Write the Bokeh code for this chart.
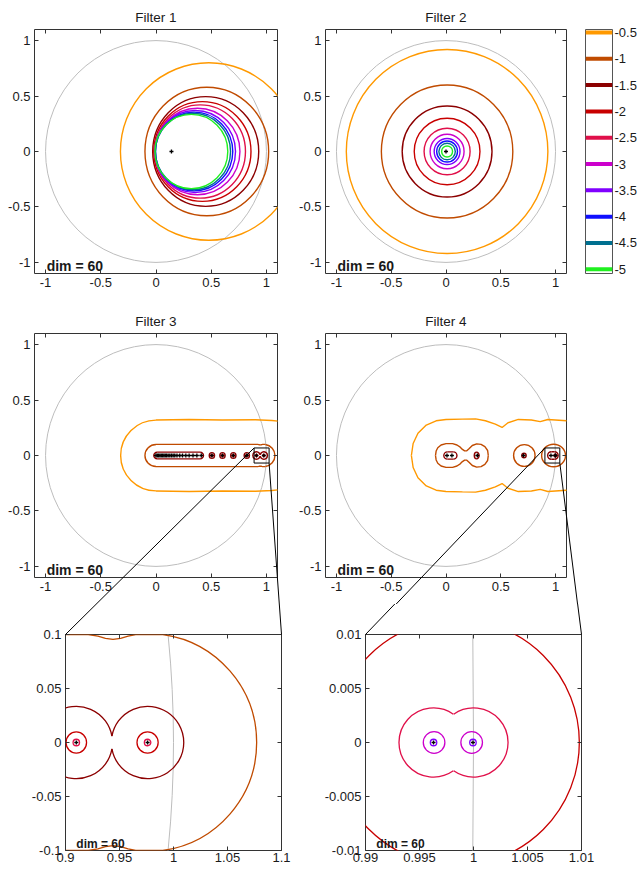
import numpy as np
from bokeh.plotting import figure
from bokeh.layouts import row, column
from bokeh.models import Range1d, FixedTicker, LinearAxis
from bokeh.core.properties import value
from bokeh.embed import file_html
from bokeh.resources import INLINE

FONT = "Liberation Sans"
INK = "#1a1a1a"
FRAME = "#333333"
GRAY = "#bdbdbd"

# ---------------- data ----------------
levels = [-0.5, -1.0, -1.5, -2.0, -2.5, -3.0, -3.5, -4.0, -4.5, -5.0]
level_labels = ["-0.5", "-1", "-1.5", "-2", "-2.5", "-3", "-3.5", "-4", "-4.5", "-5"]
level_colors = ["#ff9900", "#c04b00", "#8c0000", "#c80000", "#e0104a",
                "#cc00cc", "#8000ff", "#1010ff", "#007090", "#20f020"]

titles = ["Filter 1", "Filter 2", "Filter 3", "Filter 4"]
dim_label = "dim = 60"

main_ticks = [-1, -0.5, 0, 0.5, 1]
main_tick_labels = ["-1", "-0.5", "0", "0.5", "1"]
z1_xticks = [0.9, 0.95, 1, 1.05, 1.1]
z1_xlabels = ["0.9", "0.95", "1", "1.05", "1.1"]
z1_yticks = [-0.1, -0.05, 0, 0.05, 0.1]
z1_ylabels = ["-0.1", "-0.05", "0", "0.05", "0.1"]
z2_xticks = [0.99, 0.995, 1, 1.005, 1.01]
z2_xlabels = ["0.99", "0.995", "1", "1.005", "1.01"]
z2_yticks = [-0.01, -0.005, 0, 0.005, 0.01]
z2_ylabels = ["-0.01", "-0.005", "0", "0.005", "0.01"]

main_view = (-1.1, 1.1)
z1_view_x, z1_view_y = (0.9, 1.1), (-0.1, 0.1)
z2_view_x, z2_view_y = (0.99, 1.01), (-0.01, 0.01)

# Filter 1: one closed contour per level (centre x, half-width, half-height)
f1_cx = [0.478, 0.46, 0.45, 0.42, 0.40, 0.375, 0.355, 0.345, 0.335, 0.32]
f1_rx = [0.80, 0.56, 0.48, 0.44, 0.41, 0.385, 0.365, 0.35, 0.34, 0.33]
f1_ry = [0.80, 0.58, 0.495, 0.45, 0.42, 0.39, 0.37, 0.355, 0.345, 0.335]
f1_poles = [0.14]

# Filter 2: concentric contours
f2_cx = 0.01
f2_r = [0.92, 0.60, 0.41, 0.30, 0.21, 0.155, 0.118, 0.095, 0.075, 0.05]
f2_poles = [0.0]

# Filter 3
f3_arcs = [  # (level index, centre x, radius, start deg, end deg)
    (0, 0.0, 0.32, 90, 270),
    (1, 0.0, 0.10, 90, 270),
    (1, 0.976, 0.101, -82, 82),
    (2, 0.01, 0.03, 90, 270),
    (2, 0.40, 0.03, -90, 90),
    (2, 0.91, 0.0335, 10, 350),
    (2, 0.976, 0.0335, -170, 170),
]
f3_rings = [  # (level index, centre x, half-width, half-height)
    (2, 0.506, 0.024, 0.026), (2, 0.602, 0.024, 0.026),
    (2, 0.70, 0.024, 0.026), (2, 0.822, 0.024, 0.026),
    (3, 0.506, 0.009, 0.009), (3, 0.602, 0.009, 0.009),
    (3, 0.70, 0.009, 0.009), (3, 0.822, 0.009, 0.009),
    (3, 0.91, 0.0095, 0.0098), (3, 0.976, 0.0098, 0.0098),
    (4, 0.91, 0.003, 0.003), (4, 0.976, 0.003, 0.003),
]
f3_edges = [  # (level index, x, upper y) - mirrored below the real axis
    (0, [0.0, 0.3, 0.6, 0.9, 1.05, 1.15], [0.32, 0.325, 0.32, 0.322, 0.315, 0.305]),
    (1, [0.0, 0.921, 0.93, 0.937, 0.944, 0.951, 0.958, 0.965, 0.99],
        [0.1, 0.1, 0.0985, 0.0965, 0.0955, 0.0965, 0.0985, 0.1, 0.1]),
    (2, [0.01, 0.40], [0.03, 0.03]),
]
f3_poles = [0.0, 0.012, 0.024, 0.036, 0.048, 0.06, 0.072, 0.084, 0.096, 0.11,
            0.125, 0.14, 0.155, 0.17, 0.19, 0.215, 0.24, 0.27, 0.30, 0.335,
            0.37, 0.41, 0.506, 0.602, 0.70, 0.822, 0.91, 0.976]
f3_box = (0.888, 1.024, -0.068, 0.068)

# Filter 4
f4_arcs = [
    (2, 0.013, 0.033, 90, 270), (2, 0.067, 0.033, -90, 90),
    (2, 0.962, 0.034, 90, 270), (2, 0.99, 0.034, -90, 90),
    (4, 0.9963, 0.0032, 55, 305), (4, 1.0, 0.0032, -125, 125),
]
f4_rings = [
    (1, 0.715, 0.098, 0.098), (1, 0.982, 0.109, 0.102),
    (2, 0.28, 0.022, 0.03), (2, 0.712, 0.02, 0.02),
    (3, 0.9984, 0.0114, 0.0114),
    (5, 0.99635, 0.001, 0.001), (5, 0.99983, 0.001, 0.001),
    (6, 0.9963, 0.0003, 0.0003), (6, 0.99995, 0.0003, 0.0003),
]
f4_edges = [
    (0, [-0.316, -0.30, -0.256, -0.18, -0.09, 0.0, 0.15, 0.27, 0.36, 0.45, 0.512,
         0.566, 0.66, 0.78, 0.86, 0.93, 1.10, 1.15],
        [0.0, 0.108, 0.2, 0.274, 0.313, 0.325, 0.328, 0.33, 0.313, 0.283, 0.253,
         0.295, 0.325, 0.32, 0.305, 0.325, 0.313, 0.31]),
    (1, [-0.096, -0.09, -0.075, -0.045, 0.0, 0.06, 0.10, 0.13, 0.15, 0.17, 0.19,
         0.21, 0.24, 0.28, 0.32, 0.355, 0.38, 0.386],
        [0.0, 0.04, 0.07, 0.095, 0.107, 0.107, 0.095, 0.075, 0.055, 0.042, 0.042,
         0.06, 0.09, 0.105, 0.1, 0.08, 0.045, 0.0]),
    (2, [0.013, 0.067], [0.033, 0.033]),
    (2, [0.962, 0.99], [0.034, 0.034]),
]
f4_poles = [0.009, 0.054, 0.286, 0.708, 0.958, 0.9963, 0.99995]
f4_box = (0.903, 1.039, -0.068, 0.068)

# ---------------- layout geometry (px) ----------------
ROW_H = [300, 304, 264]
MAIN_W = [296, 289]
MAIN_B = [(34, 19), (27, 19)]            # left, right border
ROW_TB = [(29, 27), (33, 27), (30, 18)]  # top, bottom border
FRAME_MAIN = 243
Z_W = [311, 290]
Z_B = [(65, 30), (54, 20)]
CB_W = 54


def make_fig(w, h, bl, br, bt, bb, xr, yr, title=None):
    kw = dict(width=w, height=h, x_range=Range1d(*xr), y_range=Range1d(*yr),
              toolbar_location=None, output_backend="svg",
              min_border_left=bl, min_border_right=br,
              min_border_top=bt, min_border_bottom=bb)
    if title:
        kw["title"] = title
    p = figure(**kw)
    p.xgrid.visible = False
    p.ygrid.visible = False
    p.outline_line_color = FRAME
    p.outline_line_width = 1
    p.border_fill_color = "white"
    p.background_fill_color = "white"
    if title:
        p.title.text_font = FONT
        p.title.text_font_size = "13.5px"
        p.title.text_font_style = "normal"
        p.title.text_color = INK
        p.title.align = "center"
        p.title.standoff = 9
    return p


def style_axes(p, xt, xl, yt, yl, xstand=4, ystand=4):
    for ax, ticks, labels, st in ((p.below[0], xt, xl, xstand), (p.left[0], yt, yl, ystand)):
        ax.ticker = FixedTicker(ticks=ticks)
        ax.major_label_overrides = dict(zip(ticks, labels))
        ax.major_tick_in = 4
        ax.major_tick_out = 0
        ax.minor_tick_line_color = None
        ax.axis_line_color = None
        ax.major_tick_line_color = FRAME
        ax.major_label_text_font = FONT
        ax.major_label_text_font_size = "13px"
        ax.major_label_text_color = INK
        ax.major_label_standoff = st
    for loc, ticks in (("right", yt), ("above", xt)):
        ax = LinearAxis(ticker=FixedTicker(ticks=ticks), major_tick_in=4, major_tick_out=0,
                        minor_tick_line_color=None, axis_line_color=None,
                        major_tick_line_color=FRAME, major_label_text_font_size="0px",
                        major_label_text_color=None, major_label_standoff=0)
        p.add_layout(ax, loc)


def draw_unit_circle(p):
    p.ellipse(x=[0], y=[0], width=[2], height=[2], fill_color=None,
              line_color=GRAY, line_width=1)


def draw_arcs(p, arcs, lw):
    for li, cx, r, a0, a1 in arcs:
        p.arc(x=[cx], y=[0], radius=r, start_angle=np.deg2rad(a0), end_angle=np.deg2rad(a1),
              direction="anticlock", line_color=level_colors[li], line_width=lw)


def draw_rings(p, rings, lw):
    for li, cx, rx, ry in rings:
        p.ellipse(x=[cx], y=[0], width=[2 * rx], height=[2 * ry], fill_color=None,
                  line_color=level_colors[li], line_width=lw)


def draw_edges(p, edges, lw):
    for li, xs, ys in edges:
        p.multi_line(xs=[xs, xs], ys=[ys, [-v for v in ys]],
                     line_color=level_colors[li], line_width=lw)


def draw_poles(p, poles, size=4):
    p.scatter(x=poles, y=[0] * len(poles), marker="cross", size=size,
              line_color="black", line_width=1.3)


def dim_text(p, x, y, size):
    p.text(x=[x], y=[y], text=[dim_label], text_font=value(FONT),
           text_font_size=value(size), text_font_style="bold", text_color=INK,
           text_align="left", text_baseline="alphabetic")


LW = 1.4
ZLW = 1.3

# ---- row 1 ----
f1 = make_fig(MAIN_W[0], ROW_H[0], MAIN_B[0][0], MAIN_B[0][1], ROW_TB[0][0], ROW_TB[0][1],
              main_view, main_view, titles[0])
style_axes(f1, main_ticks, main_tick_labels, main_ticks, main_tick_labels)
draw_unit_circle(f1)
for i in range(len(levels)):
    f1.ellipse(x=[f1_cx[i]], y=[0], width=[2 * f1_rx[i]], height=[2 * f1_ry[i]],
               fill_color=None, line_color=level_colors[i], line_width=LW)
draw_poles(f1, f1_poles)
dim_text(f1, -0.99, -1.03, "14px")

f2 = make_fig(MAIN_W[1], ROW_H[0], MAIN_B[1][0], MAIN_B[1][1], ROW_TB[0][0], ROW_TB[0][1],
              main_view, main_view, titles[1])
style_axes(f2, main_ticks, main_tick_labels, main_ticks, main_tick_labels)
draw_unit_circle(f2)
for i in range(len(levels)):
    f2.ellipse(x=[f2_cx], y=[0], width=[2 * f2_r[i]], height=[2 * f2_r[i]],
               fill_color=None, line_color=level_colors[i], line_width=LW)
draw_poles(f2, f2_poles)
dim_text(f2, -0.99, -1.03, "14px")

cb_bottom = levels[-1] - 0.081
cb_top = levels[0] + 0.057
cb = figure(width=CB_W, height=ROW_H[0], x_range=Range1d(0, 1), y_range=Range1d(cb_bottom, cb_top),
            x_axis_location=None, y_axis_location="right", toolbar_location=None,
            output_backend="svg", min_border_left=0, min_border_right=27,
            min_border_top=29, min_border_bottom=25)
cb.xgrid.visible = False
cb.ygrid.visible = False
cb.outline_line_color = "#555555"
cb.segment(x0=[0] * len(levels), x1=[1] * len(levels), y0=levels, y1=levels,
           line_color=level_colors, line_width=4)
ya = cb.right[0]
ya.ticker = FixedTicker(ticks=levels)
ya.major_label_overrides = dict(zip(levels, level_labels))
ya.major_tick_in = 0
ya.major_tick_out = 0
ya.minor_tick_line_color = None
ya.axis_line_color = None
ya.major_label_standoff = 2
ya.major_label_text_font = FONT
ya.major_label_text_font_size = "13px"
ya.major_label_text_color = INK

# ---- row 2 ----
f3 = make_fig(MAIN_W[0], ROW_H[1], MAIN_B[0][0], MAIN_B[0][1], ROW_TB[1][0], ROW_TB[1][1],
              main_view, main_view, titles[2])
style_axes(f3, main_ticks, main_tick_labels, main_ticks, main_tick_labels)
draw_unit_circle(f3)
draw_edges(f3, f3_edges, LW)
draw_arcs(f3, f3_arcs, LW)
draw_rings(f3, f3_rings, LW)
draw_poles(f3, f3_poles)
f3.quad(left=[f3_box[0]], right=[f3_box[1]], bottom=[f3_box[2]], top=[f3_box[3]],
        fill_color=None, line_color="black", line_width=1)
dim_text(f3, -0.99, -1.03, "14px")

f4 = make_fig(MAIN_W[1], ROW_H[1], MAIN_B[1][0], MAIN_B[1][1], ROW_TB[1][0], ROW_TB[1][1],
              main_view, main_view, titles[3])
style_axes(f4, main_ticks, main_tick_labels, main_ticks, main_tick_labels)
draw_unit_circle(f4)
draw_edges(f4, f4_edges, LW)
draw_arcs(f4, f4_arcs, LW)
draw_rings(f4, f4_rings, LW)
draw_poles(f4, f4_poles)
f4.quad(left=[f4_box[0]], right=[f4_box[1]], bottom=[f4_box[2]], top=[f4_box[3]],
        fill_color=None, line_color="black", line_width=1)
dim_text(f4, -0.99, -1.03, "14px")

# ---- row 3 (zooms) ----
z1 = make_fig(Z_W[0], ROW_H[2], Z_B[0][0], Z_B[0][1], ROW_TB[2][0], ROW_TB[2][1],
              z1_view_x, z1_view_y)
style_axes(z1, z1_xticks, z1_xlabels, z1_yticks, z1_ylabels, xstand=2)
draw_unit_circle(z1)
draw_edges(z1, f3_edges, ZLW)
draw_arcs(z1, f3_arcs, ZLW)
draw_rings(z1, f3_rings, ZLW)
draw_poles(z1, f3_poles)
dim_text(z1, 0.910, -0.094, "12px")

z2 = make_fig(Z_W[1], ROW_H[2], Z_B[1][0], Z_B[1][1], ROW_TB[2][0], ROW_TB[2][1],
              z2_view_x, z2_view_y)
style_axes(z2, z2_xticks, z2_xlabels, z2_yticks, z2_ylabels, xstand=2)
draw_unit_circle(z2)
draw_edges(z2, f4_edges, ZLW)
draw_arcs(z2, f4_arcs, ZLW)
draw_rings(z2, f4_rings, ZLW)
draw_poles(z2, f4_poles)
dim_text(z2, 0.991, -0.0094, "12px")

# ---- connecting lines between a box and its zoom panel ----
def geom(fig_left, fig_top, bl, bt, fw, fh, xr, yr):
    return dict(l=fig_left + bl, t=fig_top + bt, w=fw, h=fh, xr=xr, yr=yr)


def to_abs(g, x, y):
    sx = g["l"] + (x - g["xr"][0]) / (g["xr"][1] - g["xr"][0]) * g["w"]
    sy = g["t"] + (g["yr"][1] - y) / (g["yr"][1] - g["yr"][0]) * g["h"]
    return sx, sy


def to_data(g, sx, sy):
    x = g["xr"][0] + (sx - g["l"]) / g["w"] * (g["xr"][1] - g["xr"][0])
    y = g["yr"][1] - (sy - g["t"]) / g["h"] * (g["yr"][1] - g["yr"][0])
    return x, y


row2_top = ROW_H[0]
row3_top = ROW_H[0] + ROW_H[1]
main_fh = ROW_H[1] - ROW_TB[1][0] - ROW_TB[1][1]
z1_fw = Z_W[0] - Z_B[0][0] - Z_B[0][1]
z2_fw = Z_W[1] - Z_B[1][0] - Z_B[1][1]
z_fh = ROW_H[2] - ROW_TB[2][0] - ROW_TB[2][1]
g3 = geom(0, row2_top, MAIN_B[0][0], ROW_TB[1][0], FRAME_MAIN, main_fh, main_view, main_view)
g4 = geom(MAIN_W[0], row2_top, MAIN_B[1][0], ROW_TB[1][0], FRAME_MAIN, main_fh, main_view, main_view)
gz1 = geom(0, row3_top, Z_B[0][0], ROW_TB[2][0], z1_fw, z_fh, z1_view_x, z1_view_y)
gz2 = geom(Z_W[0], row3_top, Z_B[1][0], ROW_TB[2][0], z2_fw, z_fh, z2_view_x, z2_view_y)


def connect(pa, ga, box, pb, gb, vx, vy):
    pairs = [((box[0], box[3]), (vx[0], vy[1])),   # box top-left -> panel top-left
             ((box[1], box[2]), (vx[1], vy[1]))]   # box bottom-right -> panel top-right
    for (ax, ay), (bx, by) in pairs:
        A = to_abs(ga, ax, ay)
        B = to_abs(gb, bx, by)
        bxa, bya = to_data(ga, *B)
        pa.line(x=[ax, bxa], y=[ay, bya], line_color="black", line_width=1, level="overlay")
        axb, ayb = to_data(gb, *A)
        pb.line(x=[axb, bx], y=[ayb, by], line_color="black", line_width=1, level="overlay")


connect(f3, g3, f3_box, z1, gz1, z1_view_x, z1_view_y)
connect(f4, g4, f4_box, z2, gz2, z2_view_x, z2_view_y)

layout = column(row(f1, f2, cb), row(f3, f4), row(z1, z2))
open("out.html", "w").write(file_html(layout, INLINE))
